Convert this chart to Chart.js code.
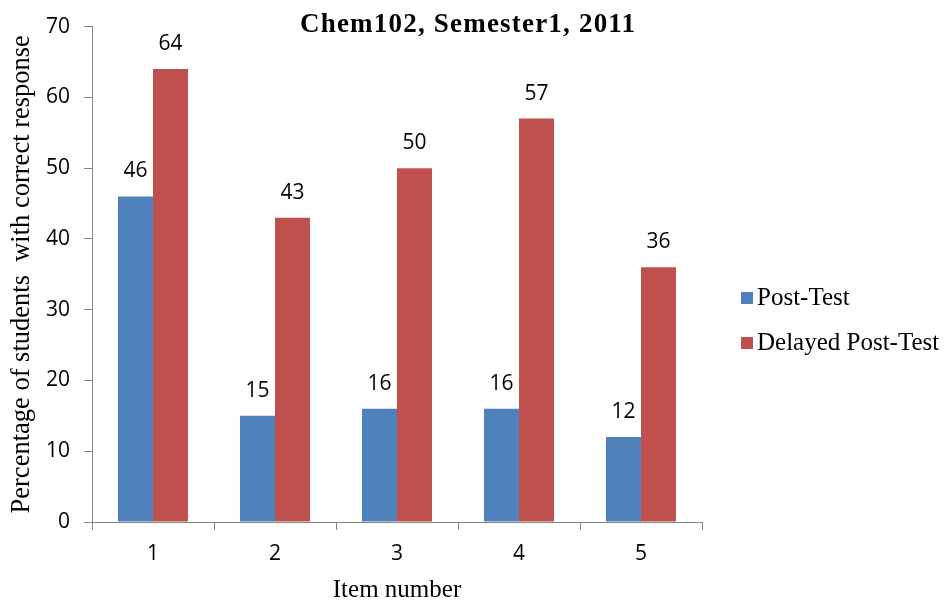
<!DOCTYPE html>
<html lang="en">
<head>
    <meta charset="UTF-8">
    <title>Chem102, Semester1, 2011</title>
    <script src="https://cdn.jsdelivr.net/npm/chart.js"></script>
    <style>
        body { margin: 0; background: #fff; }
        .wrap { position: relative; width: 946px; height: 600px; }
        .chart-title {
            position: absolute; left: 300px; top: 10px;
            font: bold 27px "Liberation Serif", serif; line-height: 27px;
            letter-spacing: 1.2px; color: #000; white-space: nowrap;
        }
        .legend-item {
            position: absolute; left: 741px;
            font: 25px "Liberation Serif", serif; line-height: 25px;
            color: #000; white-space: nowrap;
        }
        .legend-box {
            display: inline-block; width: 12px; height: 12px;
            margin-right: 4px; vertical-align: 1px;
        }
    </style>
</head>
<body>
    <div class="wrap">
        <canvas id="chem102Chart" width="946" height="600"></canvas>
        <div class="chart-title">Chem102, Semester1, 2011</div>
        <div id="legend"></div>
    </div>
    <script>
        const items = ['1', '2', '3', '4', '5'];
        const postTest = [46, 15, 16, 16, 12];
        const delayedPostTest = [64, 43, 50, 57, 36];
        const yTicks = [0, 10, 20, 30, 40, 50, 60, 70];

        const seriesNames = ['Post-Test', 'Delayed Post-Test'];
        const seriesColors = ['#4F81BD', '#C0504D'];
        const axisGray = '#868686';

        // numbers above each bar
        const barValues = {
            id: 'barValues',
            afterDatasetsDraw(chart) {
                const ctx = chart.ctx;
                ctx.save();
                ctx.font = '21px "Open Sans", sans-serif';
                ctx.fillStyle = '#000';
                ctx.textAlign = 'center';
                ctx.textBaseline = 'middle';
                chart.data.datasets.forEach((ds, i) => {
                    chart.getDatasetMeta(i).data.forEach((bar, j) => {
                        ctx.fillText(ds.data[j], bar.x, bar.y - 25);
                    });
                });
                ctx.restore();
            }
        };

        const ctx = document.getElementById('chem102Chart').getContext('2d');
        const chart = new Chart(ctx, {
            type: 'bar',
            data: {
                labels: items,
                datasets: [
                    { label: seriesNames[0], data: postTest, backgroundColor: seriesColors[0] },
                    { label: seriesNames[1], data: delayedPostTest, backgroundColor: seriesColors[1] }
                ]
            },
            options: {
                responsive: false,
                animation: false,
                categoryPercentage: 0.574,
                barPercentage: 1,
                layout: { padding: { top: 25, right: 244, left: 0, bottom: 0 } },
                plugins: {
                    legend: { display: false },
                    title: { display: false },
                    tooltip: { enabled: false }
                },
                scales: {
                    x: {
                        grid: { drawOnChartArea: false, tickLength: 8, color: axisGray },
                        border: { color: axisGray },
                        ticks: {
                            color: '#000',
                            font: { family: 'Open Sans', size: 21 },
                            padding: 11
                        },
                        title: {
                            display: true,
                            text: 'Item number',
                            color: '#000',
                            font: { family: 'Liberation Serif', size: 25, lineHeight: 1 },
                            padding: { top: 0, bottom: -3 }
                        },
                        afterFit(scale) { scale.height = 78; }
                    },
                    y: {
                        min: 0,
                        max: 70,
                        afterBuildTicks(scale) {
                            scale.ticks = yTicks.map(v => ({ value: v }));
                        },
                        grid: { drawOnChartArea: false, tickLength: 8, color: axisGray },
                        border: { color: axisGray },
                        ticks: {
                            color: '#000',
                            font: { family: 'Open Sans', size: 21 },
                            padding: 14
                        },
                        title: {
                            display: true,
                            text: 'Percentage of students  with correct response',
                            color: '#000',
                            font: { family: 'Liberation Serif', size: 26.5, lineHeight: 1 },
                            padding: { top: 9, bottom: 0 }
                        },
                        afterFit(scale) { scale.width = 92; }
                    }
                }
            },
            plugins: [barValues]
        });

        // legend on the right
        const legend = document.getElementById('legend');
        const legendTops = [284, 329];
        seriesNames.forEach((name, i) => {
            const item = document.createElement('div');
            item.className = 'legend-item';
            item.style.top = legendTops[i] + 'px';
            const box = document.createElement('span');
            box.className = 'legend-box';
            box.style.backgroundColor = seriesColors[i];
            item.appendChild(box);
            item.appendChild(document.createTextNode(name));
            legend.appendChild(item);
        });
    </script>
</body>
</html>
